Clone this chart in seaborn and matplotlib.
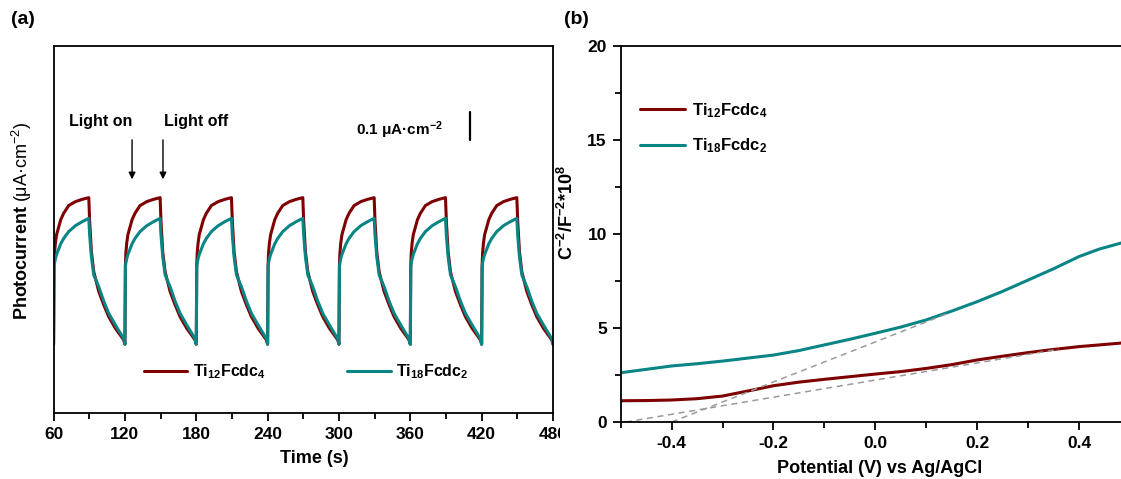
import numpy as np
import pandas as pd
import matplotlib
matplotlib.use('Agg')
import matplotlib.pyplot as plt
import seaborn as sns
from matplotlib.ticker import MultipleLocator
from matplotlib.transforms import Bbox, TransformedBbox

sns.set_style('ticks')
plt.rcParams['font.family'] = ['Liberation Sans', 'DejaVu Sans']
plt.rcParams['font.weight'] = 'bold'
plt.rcParams['axes.labelweight'] = 'bold'
plt.rcParams['mathtext.fontset'] = 'custom'
plt.rcParams['mathtext.rm'] = 'Liberation Sans'
plt.rcParams['mathtext.bf'] = 'Liberation Sans:bold'
plt.rcParams['mathtext.default'] = 'regular'
plt.rcParams['axes.unicode_minus'] = False
for k in ['text.color', 'axes.labelcolor', 'xtick.color', 'ytick.color']:
    plt.rcParams[k] = 'black'

red = '#7f0000'
teal = '#0a8585'
lab12 = 'Ti$_{12}$Fcdc$_4$'
lab18 = 'Ti$_{18}$Fcdc$_2$'

# (a) photocurrent: one light on/off cycle (30 s on, 30 s off)
cycle_starts = [60, 120, 180, 240, 300, 360, 420]
cycle_t = [0, 0.4, 0.8, 1.5, 2.5, 4, 6, 8.5, 12.7, 18.4, 24, 29.6,
           30.3, 31.8, 33.8, 38, 42.2, 46.4, 52, 59]
ti12_cycle = [0.243, 0.523, 0.565, 0.600, 0.630, 0.653, 0.683, 0.706, 0.733, 0.747, 0.755, 0.761,
              0.680, 0.570, 0.499, 0.429, 0.382, 0.340, 0.299, 0.258]
ti18_cycle = [0.243, 0.517, 0.530, 0.545, 0.560, 0.576, 0.598, 0.617, 0.641, 0.662, 0.676, 0.688,
              0.630, 0.552, 0.488, 0.446, 0.395, 0.352, 0.311, 0.262]
end_t = 480
end_val = 0.243

# (b) Mott-Schottky
pot = [-0.5, -0.45, -0.4, -0.35, -0.3, -0.25, -0.2, -0.15, -0.1, -0.05, 0.0,
       0.05, 0.1, 0.15, 0.2, 0.25, 0.3, 0.35, 0.4, 0.44, 0.5]
ms_ti12 = [1.13, 1.14, 1.17, 1.24, 1.38, 1.65, 1.93, 2.12, 2.27, 2.41, 2.55,
           2.68, 2.85, 3.05, 3.30, 3.50, 3.69, 3.86, 4.01, 4.10, 4.24]
ms_ti18 = [2.62, 2.80, 2.98, 3.10, 3.24, 3.40, 3.56, 3.80, 4.10, 4.40, 4.72,
           5.05, 5.43, 5.90, 6.40, 6.95, 7.55, 8.15, 8.80, 9.20, 9.65]
fit12_x = [-0.49, 0.36]
fit12_y = [0.0, 3.87]
fit18_x = [-0.40, 0.14]
fit18_y = [0.0, 5.75]

# build long-form tables
t_a, j12, j18 = [], [], []
for s in cycle_starts:
    t_a += [s + dt for dt in cycle_t]
    j12 += ti12_cycle
    j18 += ti18_cycle
t_a.append(end_t)
j12.append(end_val)
j18.append(end_val)
df_a = pd.DataFrame({'t': t_a * 2, 'j': j12 + j18,
                     'sample': [lab12] * len(t_a) + [lab18] * len(t_a)})
df_b = pd.DataFrame({'v': pot * 2, 'c': ms_ti12 + ms_ti18,
                     'sample': [lab12] * len(pot) + [lab18] * len(pot)})

fig = plt.figure(figsize=(11.21, 4.79), dpi=100)
ax1 = fig.add_axes([0.0478, 0.1378, 0.4455, 0.7662])
ax2 = fig.add_axes([0.5537, 0.119, 0.4543, 0.785])

# ---- panel (a) ----
sns.lineplot(data=df_a, x='t', y='j', hue='sample', palette=[red, teal],
             estimator=None, sort=False, lw=2.2, ax=ax1)
ax1.set_xlim(60, 480)
ax1.set_ylim(0, 1.297)
ax1.set_xticks(range(60, 481, 60))
ax1.xaxis.set_minor_locator(MultipleLocator(30))
ax1.set_yticks([])
ax1.tick_params(axis='x', which='major', direction='out', length=6, width=1.3,
                labelsize=12.5, pad=4)
ax1.tick_params(axis='x', which='minor', direction='out', length=4, width=1.3)
for sp in ax1.spines.values():
    sp.set_linewidth(1.3)
    sp.set_color('black')
ax1.set_xlabel('Time (s)', fontsize=13)
ax1.xaxis.set_label_coords(0.523, -0.1)
ax1.set_ylabel(r'$\mathbf{Photocurrent}$ (μA·cm$^{-2}$)', fontsize=13, fontweight='normal')
ax1.yaxis.set_label_coords(-0.039, 0.523)
ax1.legend(ncol=2, frameon=False, fontsize=11.5, loc='center left',
           bbox_to_anchor=(0.181, 0.112), borderaxespad=0, borderpad=0,
           handlelength=2.72, handletextpad=0.35, columnspacing=5.1)

ax1.text(100, 1.03, 'Light on', fontsize=11.5, ha='center', va='center')
ax1.text(179.5, 1.03, 'Light off', fontsize=11.5, ha='center', va='center')
for xa in [126, 152]:
    ax1.annotate('', xy=(xa, 0.816), xytext=(xa, 0.975),
                 arrowprops=dict(arrowstyle='-|>', lw=1, color='black', mutation_scale=10))
ax1.text(351, 1.0, '0.1 μA·cm$^{-2}$', fontsize=11, ha='center', va='center')
ax1.plot([410, 410], [0.965, 1.065], color='black', lw=1.6)

clip = TransformedBbox(Bbox.from_extents(0, 0, 560 / 1121, 1), fig.transFigure)
for lbl in ax1.get_xticklabels():
    lbl.set_clip_box(clip)
    lbl.set_clip_on(True)

# ---- panel (b) ----
sns.lineplot(data=df_b, x='v', y='c', hue='sample', palette=[red, teal],
             estimator=None, sort=False, lw=2.2, ax=ax2)
ax2.plot(fit12_x, fit12_y, ls=(0, (4, 3)), color='#9a9a9a', lw=1.1)
ax2.plot(fit18_x, fit18_y, ls=(0, (4, 3)), color='#9a9a9a', lw=1.1)
ax2.set_xlim(-0.5, 0.5)
ax2.set_ylim(0, 20)
ax2.set_xticks([-0.4, -0.2, 0.0, 0.2, 0.4])
ax2.xaxis.set_minor_locator(MultipleLocator(0.1))
ax2.set_yticks([0, 5, 10, 15, 20])
ax2.yaxis.set_minor_locator(MultipleLocator(2.5))
ax2.tick_params(which='major', direction='out', length=6, width=1.3, labelsize=12.5, pad=4)
ax2.tick_params(which='minor', direction='out', length=4, width=1.3)
ax2.spines['right'].set_visible(False)
for sp in ['left', 'bottom', 'top']:
    ax2.spines[sp].set_linewidth(1.3)
    ax2.spines[sp].set_color('black')
ax2.set_xlabel('Potential (V) vs Ag/AgCl', fontsize=13)
ax2.xaxis.set_label_coords(0.509, -0.1)
ax2.set_ylabel('C$^{-2}$/F$^{-2}$*10$^{8}$', fontsize=13)
ax2.yaxis.set_label_coords(-0.086, 0.556)
ax2.legend(frameon=False, fontsize=12, loc='center left',
           bbox_to_anchor=(0.038, 0.781), borderaxespad=0, borderpad=0,
           handlelength=2.7, handletextpad=0.4, labelspacing=1.0)

fig.text(23 / 1121, 1 - 19 / 479, '(a)', fontsize=14, ha='center', va='center')
fig.text(576 / 1121, 1 - 19 / 479, '(b)', fontsize=14, ha='center', va='center')

fig.savefig('out.png', dpi=100)
